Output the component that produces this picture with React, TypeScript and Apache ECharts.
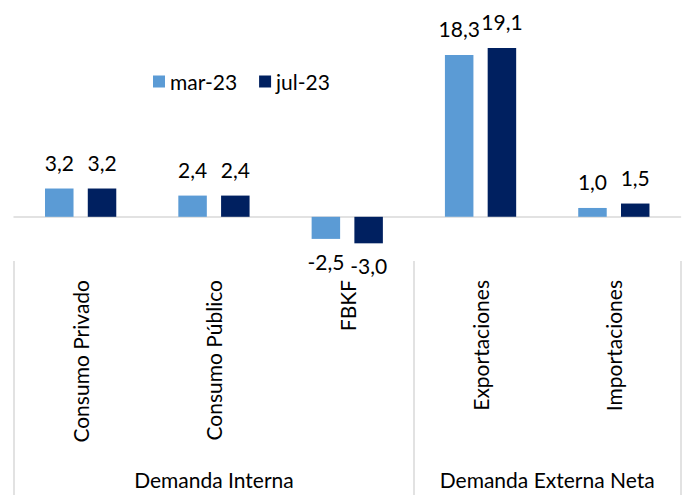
import React, { useEffect, useRef } from "react";
import * as echarts from "echarts";

const categories = ["Consumo Privado", "Consumo Público", "FBKF", "Exportaciones", "Importaciones"];
const seriesNames = ["mar-23", "jul-23"];
const mar23 = [3.2, 2.4, -2.5, 18.3, 1.0];
const jul23 = [3.2, 2.4, -3.0, 19.1, 1.5];
const groupNames = ["Demanda Interna", "Demanda Externa Neta"];
const groupSizes = [3, 2];

const FONT = "Lato, 'Noto Sans', sans-serif";
const colors = ["#5B9BD5", "#002060"];

function fmt(v: number) {
  return v.toFixed(1).replace(".", ",");
}

function buildData(vals: number[]) {
  return vals.map((v) => ({
    value: v,
    label: { position: v < 0 ? "bottom" : "top", distance: v < 0 ? 12 : 16 },
  }));
}

export default function App() {
  const ref = useRef<HTMLDivElement>(null);
  useEffect(() => {
    if (!ref.current) return;
    const chart = echarts.init(ref.current, null, { renderer: "svg" });
    const boundaries: number[] = [0];
    const centers: number[] = [];
    let acc = 0;
    groupSizes.forEach((s) => {
      centers.push(acc + s / 2);
      acc += s;
      boundaries.push(acc);
    });
    const label = {
      show: true,
      fontFamily: FONT,
      fontSize: 21,
      color: "#000",
      formatter: (p: any) => fmt(p.value),
    };
    chart.setOption({
      animation: false,
      legend: {
        data: seriesNames,
        left: 148,
        top: 66,
        icon: "rect",
        itemWidth: 12,
        itemHeight: 12,
        itemGap: 22,
        textStyle: { fontFamily: FONT, fontSize: 21, color: "#000" },
      },
      grid: { left: 14, right: 2.5, top: 40, bottom: 234, containLabel: false },
      yAxis: { type: "value", min: -5, max: 20, show: false, splitLine: { show: false } },
      xAxis: [
        {
          type: "category",
          data: categories,
          axisLine: { onZero: true, lineStyle: { color: "#d9d9d9", width: 1.5 } },
          axisTick: { show: false },
          axisLabel: { show: false },
        },
        {
          type: "category",
          data: categories,
          position: "bottom",
          axisLine: { show: false, onZero: false },
          axisTick: { show: false },
          axisLabel: {
            rotate: 90,
            margin: 19,
            interval: 0,
            fontFamily: FONT,
            fontSize: 21,
            color: "#000",
          },
        },
        {
          type: "value",
          min: 0,
          max: groupSizes.reduce((a, b) => a + b, 0),
          position: "bottom",
          axisLine: { show: false, onZero: false },
          splitLine: { show: false },
          axisTick: {
            show: true,
            customValues: boundaries,
            length: 234,
            lineStyle: { color: "#d9d9d9", width: 1.5 },
          },
          axisLabel: {
            customValues: centers,
            margin: 208,
            fontFamily: FONT,
            fontSize: 21,
            color: "#000",
            formatter: (v: number) => {
              const i = centers.indexOf(v);
              return i >= 0 ? groupNames[i] : "";
            },
          },
        },
      ],
      series: [
        {
          name: seriesNames[0],
          type: "bar",
          xAxisIndex: 0,
          data: buildData(mar23),
          barWidth: 28.5,
          barGap: "50%",
          itemStyle: { color: colors[0] },
          label,
        },
        {
          name: seriesNames[1],
          type: "bar",
          xAxisIndex: 0,
          data: buildData(jul23),
          barWidth: 28.5,
          barGap: "50%",
          itemStyle: { color: colors[1] },
          label,
        },
      ],
    });
    return () => chart.dispose();
  }, []);
  return (
    <div
      ref={ref}
      style={{ position: "fixed", left: 0, top: 0, width: 683, height: 495, background: "#fff" }}
    />
  );
}
